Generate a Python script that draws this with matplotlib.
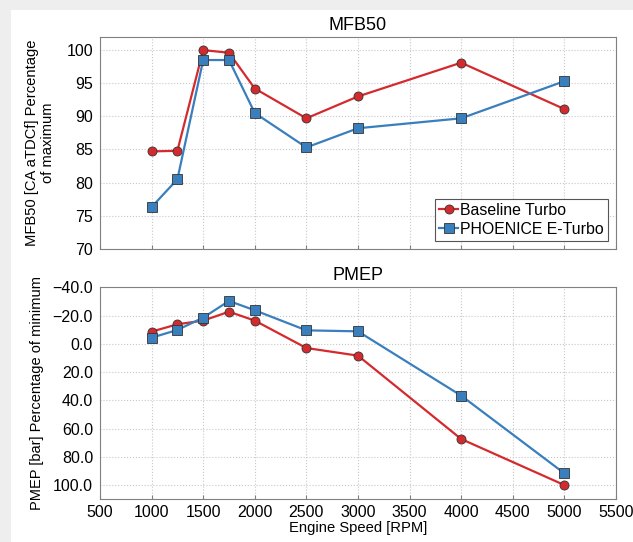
import matplotlib.pyplot as plt
import matplotlib.ticker as mticker
from matplotlib.patches import Rectangle

plt.rcParams['font.family'] = ['Liberation Sans', 'DejaVu Sans']

rpm = [1000, 1250, 1500, 1750, 2000, 2500, 3000, 4000, 5000]

# MFB50 percentage of maximum
mfb_base = [84.7, 84.8, 100.0, 99.6, 94.2, 89.7, 93.0, 98.1, 91.1]
mfb_eturbo = [76.3, 80.5, 98.5, 98.5, 90.5, 85.3, 88.2, 89.7, 95.3]

# PMEP percentage of minimum
pmep_base = [-8.6, -13.8, -16.4, -22.7, -16.4, 3.0, 8.4, 67.4, 100.0]
pmep_eturbo = [-4.3, -9.8, -18.5, -30.3, -23.7, -9.5, -8.8, 36.7, 91.7]

labels = ['Baseline Turbo', 'PHOENICE E-Turbo']
red = '#d42a2e'
blue = '#3a7fbd'

fig = plt.figure(figsize=(6.33, 5.42), dpi=100)
fig.patch.set_facecolor('#eeeeee')
fig.patches.append(Rectangle((0.017, 0), 1.0, 0.982, transform=fig.transFigure,
                             facecolor='white', edgecolor='none', zorder=-10))

ax1 = fig.add_axes([0.158, 0.541, 0.815, 0.391])
ax2 = fig.add_axes([0.158, 0.079, 0.815, 0.391])

def style(ax):
    ax.set_xlim(500, 5500)
    ax.set_xticks(range(500, 5501, 500))
    ax.grid(True, color='#c8c8c8', linestyle=':', linewidth=0.8)
    for s in ax.spines.values():
        s.set_color('#808080')
    ax.tick_params(axis='x', direction='in', length=3, color='#808080', labelsize=11.5, pad=4)
    ax.tick_params(axis='y', length=0, labelsize=11.5, pad=5)
    ax.set_axisbelow(True)

mk = dict(markersize=6.5, markeredgecolor='#333333', markeredgewidth=0.6, linewidth=1.6)

ax1.plot(rpm, mfb_base, '-o', color=red, label=labels[0], **mk)
ax1.plot(rpm, mfb_eturbo, '-s', color=blue, label=labels[1], **mk)
style(ax1)
ax1.set_ylim(70, 102)
ax1.set_yticks(range(70, 101, 5))
ax1.tick_params(axis='x', labelbottom=False)
ax1.set_title('MFB50', fontsize=13, pad=5)
ax1.set_ylabel('MFB50 [CA aTDCf] Percentage\nof maximum', fontsize=10.6, labelpad=8)
leg = ax1.legend(loc='lower right', fontsize=11.4, fancybox=False, edgecolor='#555555',
                 framealpha=1, handlelength=1.2, handletextpad=0.15, borderpad=0.25,
                 labelspacing=0.25, borderaxespad=0.5)
leg.get_frame().set_linewidth(0.8)

ax2.plot(rpm, pmep_base, '-o', color=red, **mk)
ax2.plot(rpm, pmep_eturbo, '-s', color=blue, **mk)
style(ax2)
ax2.set_ylim(110, -40)
ax2.set_yticks(range(-40, 101, 20))
ax2.yaxis.set_major_formatter(mticker.FuncFormatter(lambda v, p: f'{v:.1f}'.replace('-', '\u2212')))
ax2.set_title('PMEP', fontsize=13, pad=5)
ax2.set_ylabel('PMEP [bar] Percentage of minimum', fontsize=10.5, labelpad=6)
ax2.set_xlabel('Engine Speed [RPM]', fontsize=10.6, labelpad=1)

fig.savefig('out.png', dpi=100, facecolor=fig.get_facecolor())
